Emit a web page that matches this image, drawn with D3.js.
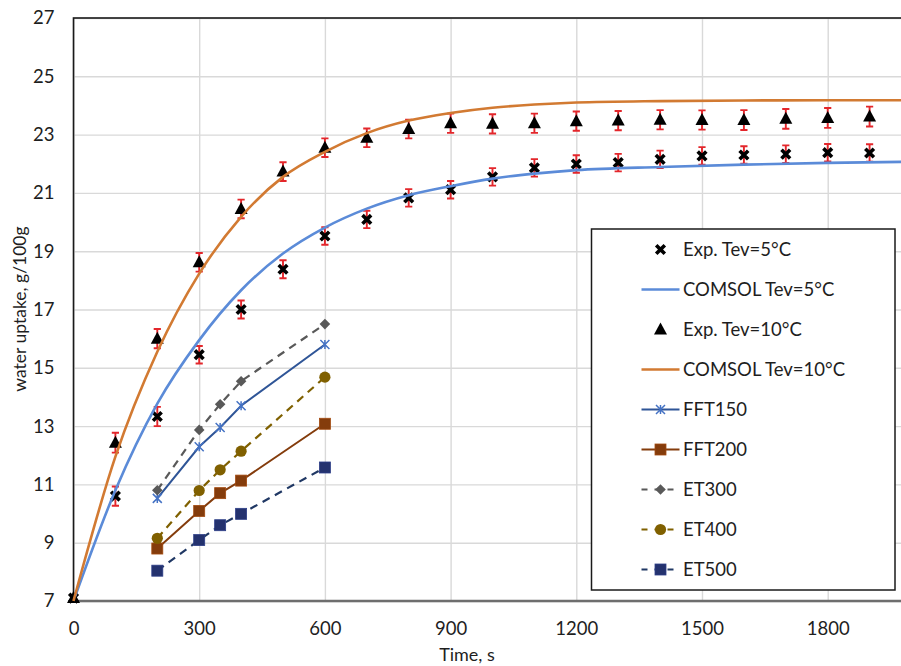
<!DOCTYPE html>
<html>
<head>
<meta charset="utf-8">
<script src="https://cdn.jsdelivr.net/npm/d3@7"></script>
<style>
  html, body { margin: 0; padding: 0; background: #fff; }
  svg { display: block; font-family: Lato, "Open Sans", sans-serif; }
</style>
</head>
<body>
<svg id="chart" width="901" height="666"></svg>
<script>
'use strict';

// experimental points (every 100 s)
const tExp = [0, 100, 200, 300, 400, 500, 600, 700, 800, 900, 1000, 1100, 1200, 1300, 1400, 1500, 1600, 1700, 1800, 1900];
const exp5 = [7.1, 10.6, 13.33, 15.45, 17.0, 18.38, 19.52, 20.09, 20.83, 21.11, 21.55, 21.86, 21.99, 22.04, 22.15, 22.27, 22.3, 22.33, 22.38, 22.37];
const err5 = [0.05, 0.33, 0.33, 0.3, 0.31, 0.31, 0.3, 0.3, 0.3, 0.3, 0.3, 0.3, 0.3, 0.3, 0.3, 0.3, 0.3, 0.3, 0.3, 0.3];
const exp10 = [7.1, 12.43, 16.0, 18.62, 20.45, 21.73, 22.55, 22.89, 23.19, 23.39, 23.37, 23.39, 23.46, 23.48, 23.51, 23.5, 23.5, 23.54, 23.57, 23.62];
const err10 = [0.05, 0.34, 0.33, 0.32, 0.32, 0.32, 0.32, 0.32, 0.32, 0.33, 0.33, 0.33, 0.33, 0.33, 0.33, 0.33, 0.34, 0.34, 0.34, 0.34];

// COMSOL curves
const tSim = [0, 100, 200, 300, 400, 500, 600, 700, 800, 900, 1000, 1100, 1200, 1400, 1600, 1800, 2000];
const comsol5 = [7, 10.8, 13.77, 15.95, 17.66, 18.92, 19.81, 20.46, 20.92, 21.23, 21.49, 21.66, 21.78, 21.89, 21.97, 22.03, 22.07];
const comsol10 = [7, 11.95, 15.55, 18.23, 20.18, 21.55, 22.41, 23.05, 23.48, 23.74, 23.92, 24.03, 24.1, 24.15, 24.17, 24.18, 24.18];

// tested configurations
const tCfg = [200, 300, 350, 400, 600];
const fft150 = [10.52, 12.29, 12.95, 13.7, 15.8];
const fft200 = [8.8, 10.09, 10.7, 11.13, 13.08];
const et300 = [10.8, 12.87, 13.75, 14.54, 16.5];
const et400 = [9.15, 10.79, 11.5, 12.14, 14.68];
const et500 = [8.04, 9.09, 9.6, 9.99, 11.58];

const xTicks = [0, 300, 600, 900, 1200, 1500, 1800];
const yTicks = [7, 9, 11, 13, 15, 17, 19, 21, 23, 25, 27];

const series = [
  {name: 'Exp. Tev=5\u00b0C', t: tExp, v: exp5, err: err5, marker: 'x', mColor: '#000'},
  {name: 'COMSOL Tev=5\u00b0C', t: tSim, v: comsol5, line: '#5b8bd8', width: 2.6, smooth: true},
  {name: 'Exp. Tev=10\u00b0C', t: tExp, v: exp10, err: err10, marker: 'triangle', mColor: '#000'},
  {name: 'COMSOL Tev=10\u00b0C', t: tSim, v: comsol10, line: '#d27a32', width: 2.6, smooth: true},
  {name: 'FFT150', t: tCfg, v: fft150, line: '#2f5597', width: 2, marker: 'star', mColor: '#4472c4'},
  {name: 'FFT200', t: tCfg, v: fft200, line: '#843c0c', width: 2, marker: 'square', mColor: '#843c0c'},
  {name: 'ET300', t: tCfg, v: et300, line: '#595959', width: 2.2, dash: '8,6', marker: 'diamond', mColor: '#595959'},
  {name: 'ET400', t: tCfg, v: et400, line: '#7f6000', width: 2.2, dash: '8,6', marker: 'circle', mColor: '#806000'},
  {name: 'ET500', t: tCfg, v: et500, line: '#203864', width: 2.2, dash: '8,6', marker: 'square', mColor: '#24326e'},
];

const svg = d3.select('#chart');
const x = d3.scaleLinear().domain([0, 2000]).range([73.5, 911.5]);
const y = d3.scaleLinear().domain([7, 27]).range([601, 18]);
const ink = '#1e1e1e';

// grid
svg.append('g')
  .attr('transform', 'translate(0,601)')
  .call(d3.axisBottom(x).tickValues(xTicks).tickSize(-(601 - 18)).tickFormat(''))
  .call(g => g.select('.domain').remove())
  .call(g => g.selectAll('line').attr('stroke', '#d9d9d9').attr('stroke-width', 1.4));
svg.append('g')
  .attr('transform', 'translate(73.5,0)')
  .call(d3.axisLeft(y).tickValues(yTicks).tickSize(-(911.5 - 73.5)).tickFormat(''))
  .call(g => g.select('.domain').remove())
  .call(g => g.selectAll('line').attr('stroke', '#d9d9d9').attr('stroke-width', 1.4));

// plot border + bottom axis
svg.append('rect')
  .attr('x', 73.5).attr('y', 18).attr('width', 911.5 - 73.5).attr('height', 601 - 18)
  .attr('fill', 'none').attr('stroke', '#1a1a1a').attr('stroke-width', 1.6);
svg.append('line')
  .attr('x1', 73.5).attr('x2', 911.5).attr('y1', 601).attr('y2', 601)
  .attr('stroke', '#6e6e6e').attr('stroke-width', 2.4);

// tick labels
svg.append('g')
  .attr('transform', 'translate(0,601)')
  .call(d3.axisBottom(x).tickValues(xTicks).tickSize(0).tickPadding(21).tickFormat(d3.format('d')))
  .call(g => g.select('.domain').remove())
  .call(g => g.selectAll('text').attr('font-size', 18.5).attr('fill', ink).style('font-family', 'Lato'));
svg.append('g')
  .attr('transform', 'translate(73.5,0)')
  .call(d3.axisLeft(y).tickValues(yTicks).tickSize(0).tickPadding(19))
  .call(g => g.select('.domain').remove())
  .call(g => g.selectAll('text').attr('font-size', 18.5).attr('fill', ink).style('font-family', 'Lato'));

// axis titles
svg.append('text')
  .attr('x', 467).attr('y', 661).attr('text-anchor', 'middle')
  .attr('font-size', 18).attr('fill', ink).text('Time, s');
svg.append('text')
  .attr('transform', 'translate(26,309) rotate(-90)').attr('text-anchor', 'middle')
  .attr('font-size', 17.5).attr('fill', ink).text('water uptake, g/100g');

function drawMarker(g, type, color, cx, cy) {
  if (type === 'x') {
    g.append('path').attr('d', `M${cx - 4.3},${cy - 4.3}L${cx + 4.3},${cy + 4.3}M${cx - 4.3},${cy + 4.3}L${cx + 4.3},${cy - 4.3}`)
      .attr('stroke', color).attr('stroke-width', 3.6).attr('fill', 'none');
  } else if (type === 'star') {
    g.append('path').attr('d', `M${cx - 4.5},${cy - 4.5}L${cx + 4.5},${cy + 4.5}M${cx - 4.5},${cy + 4.5}L${cx + 4.5},${cy - 4.5}M${cx},${cy - 4.5}L${cx},${cy + 4.5}`)
      .attr('stroke', color).attr('stroke-width', 1.5).attr('fill', 'none');
  } else if (type === 'triangle') {
    g.append('path').attr('d', `M${cx},${cy - 7}L${cx + 6.5},${cy + 5}L${cx - 6.5},${cy + 5}Z`).attr('fill', color);
  } else if (type === 'square') {
    g.append('rect').attr('x', cx - 5.5).attr('y', cy - 5.5).attr('width', 11).attr('height', 11)
      .attr('fill', color).attr('stroke', d3.color(color).brighter(0.6)).attr('stroke-width', 0.8);
  } else if (type === 'diamond') {
    g.append('path').attr('d', `M${cx},${cy - 5.3}L${cx + 5.3},${cy}L${cx},${cy + 5.3}L${cx - 5.3},${cy}Z`).attr('fill', color);
  } else if (type === 'circle') {
    g.append('circle').attr('cx', cx).attr('cy', cy).attr('r', 5.6).attr('fill', color);
  }
}

const plot = svg.append('g');
series.forEach(s => {
  const pts = s.t.map((t, i) => ({t: t, v: s.v[i], e: s.err ? s.err[i] : 0}));
  const g = plot.append('g');
  if (s.line) {
    const ln = d3.line().x(d => x(d.t)).y(d => y(d.v));
    if (s.smooth) ln.curve(d3.curveMonotoneX);
    g.append('path').datum(pts).attr('d', ln)
      .attr('fill', 'none').attr('stroke', s.line).attr('stroke-width', s.width)
      .attr('stroke-dasharray', s.dash || null);
  }
  if (s.err) {
    pts.filter(d => d.t > 0).forEach(d => {
      const px = x(d.t), y0 = y(d.v - d.e), y1 = y(d.v + d.e);
      g.append('path').attr('d', `M${px},${y0}L${px},${y1}M${px - 3.6},${y0}L${px + 3.6},${y0}M${px - 3.6},${y1}L${px + 3.6},${y1}`)
        .attr('stroke', '#e3262b').attr('stroke-width', 1.9).attr('fill', 'none');
    });
  }
  if (s.marker) pts.forEach(d => drawMarker(g, s.marker, s.mColor, x(d.t), y(d.v)));
});

// legend
const lg = svg.append('g');
lg.append('rect').attr('x', 591.5).attr('y', 229).attr('width', 303.5).attr('height', 361)
  .attr('fill', '#fff').attr('stroke', '#1a1a1a').attr('stroke-width', 1.5);
series.forEach((s, i) => {
  const cy = 249.5 + i * 40;
  if (s.line) {
    lg.append('line').attr('x1', 641.5).attr('x2', 679.5).attr('y1', cy).attr('y2', cy)
      .attr('stroke', s.line).attr('stroke-width', s.width)
      .attr('stroke-dasharray', s.dash ? '6,7' : null);
  }
  if (s.marker) drawMarker(lg, s.marker, s.mColor, 660.5, cy);
  lg.append('text').attr('x', 683).attr('y', cy).attr('dy', '0.35em')
    .attr('font-size', 18.5).attr('fill', ink).text(s.name);
});
</script>
</body>
</html>
